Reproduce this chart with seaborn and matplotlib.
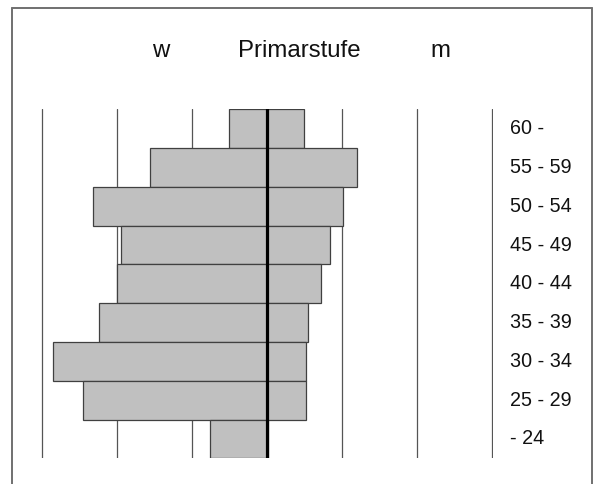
import numpy as np
import pandas as pd
import seaborn as sns
import matplotlib.pyplot as plt
from matplotlib.lines import Line2D
from matplotlib.transforms import blended_transform_factory

# Age groups, top to bottom
age_groups = ["60 -", "55 - 59", "50 - 54", "45 - 49", "40 - 44",
              "35 - 39", "30 - 34", "25 - 29", "- 24"]
women = [0.50, 1.56, 2.32, 1.94, 2.00, 2.24, 2.85, 2.45, 0.76]
men = [0.50, 1.21, 1.02, 0.85, 0.72, 0.55, 0.52, 0.52, 0.02]
grid_ticks = [-3, -2, -1, 0, 1, 2, 3]

sns.set_theme(style="white")
plt.rcParams['font.family'] = ['Liberation Sans', 'DejaVu Sans']

W, H = 596, 484
fig = plt.figure(figsize=(W / 100, H / 100), dpi=100)

# axes placed in pixel terms
pad = 0.02
ax_left = 41.7 - pad * 75
ax_width = (6 + 2 * pad) * 75
ax_top = 109.3
ax_bottom = 458.3
ax = fig.add_axes([ax_left / W, 1 - ax_bottom / H, ax_width / W, (ax_bottom - ax_top) / H])

df = pd.DataFrame({"age": age_groups, "w": -np.array(women), "m": men})

bar_kw = dict(color="#c0c0c0", edgecolor="#404040", linewidth=0.9, width=1.0,
              orient="h", order=age_groups, zorder=2)
sns.barplot(data=df, x="w", y="age", ax=ax, **bar_kw)
sns.barplot(data=df, x="m", y="age", ax=ax, **bar_kw)

ax.set_xlim(-3 - pad, 3 + pad)
ax.set_ylim(len(age_groups) - 0.5, -0.5)
ax.set_xticks(grid_ticks)
ax.set_yticks([])
ax.set_xticklabels([])
ax.grid(axis="x", color="#555555", linewidth=0.9, zorder=0)
ax.set_axisbelow(True)
ax.tick_params(length=0)
ax.set_xlabel("")
ax.set_ylabel("")
for s in ax.spines.values():
    s.set_visible(False)
ax.axvline(0, color="black", linewidth=2.3, zorder=3)

# age labels on the right
trans = blended_transform_factory(ax.transAxes, ax.transData)
for i, lab in enumerate(age_groups):
    ax.text((510 - ax_left) / ax_width, i, lab, transform=trans, ha="left",
            va="center", fontsize=14.2, color="#111111", clip_on=False)

# header texts
base_y = 1 - 57.3 / H
fig.text(161 / W, base_y, "w", ha="center", va="baseline", fontsize=17.3, color="#111111")
fig.text(299.5 / W, base_y, "Primarstufe", ha="center", va="baseline", fontsize=17.3, color="#111111")
fig.text(440 / W, base_y, "m", ha="center", va="baseline", fontsize=17.3, color="#111111")

# outer frame (left, top, right)
fx0, fx1, fy0 = 11.7 / W, 592 / W, 1 - 8 / H
frame_kw = dict(color="#707070", linewidth=1.4, transform=fig.transFigure)
fig.add_artist(Line2D([fx0, fx0], [0, fy0], **frame_kw))
fig.add_artist(Line2D([fx0, fx1], [fy0, fy0], **frame_kw))
fig.add_artist(Line2D([fx1, fx1], [0, fy0], **frame_kw))

fig.savefig("out.png", dpi=100)
